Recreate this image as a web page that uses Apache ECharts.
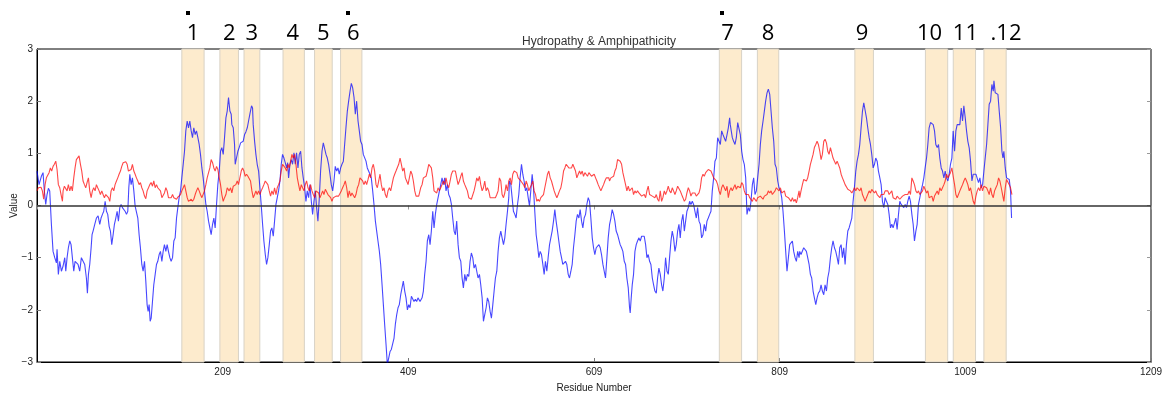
<!DOCTYPE html>
<html>
<head>
<meta charset="utf-8">
<script src="https://cdn.jsdelivr.net/npm/echarts@6/dist/echarts.min.js"></script>
<style>
  html, body { margin: 0; padding: 0; background: #fff; }
  #chart { width: 1168px; height: 399px; }
</style>
</head>
<body>
<div id="chart"></div>
<script>
// Hydropathy profile: [residue, value]
const hydropathy = [
[9,0.66],[11.2,0.40],[13.7,0.56],[15.5,0.63],[16.9,0.28],[18.4,0.02],[19.8,0.21],[21.3,0.33],[22.7,0.28],[24.5,-0.36],[26.3,-0.88],[28.1,-1.0],[29.9,-1.10],[30.6,-0.84],[32,-1.32],[33.5,-1.07],[35.3,-1.26],[37.1,-1.16],[38.9,-1.0],[40,-1.26],[41.4,-1.0],[42.8,-0.81],[44.3,-0.68],[45.7,-0.75],[47.1,-1.0],[48.6,-1.26],[50,-1.07],[51.4,-1.07],[53.2,-1.13],[55,-1.26],[56.8,-1.0],[58.6,-1.0],[60.4,-1.13],[62.2,-1.39],[63.3,-1.68],[64.4,-1.32],[65.8,-1.13],[67.3,-0.81],[68.3,-0.56],[69.4,-0.49],[71.2,-0.36],[73,-0.24],[74.8,-0.20],[76.6,-0.36],[78,-0.24],[79.5,-0.17],[80.9,-0.11],[82.4,0.08],[83.8,-0.11],[85.2,-0.17],[86.7,-0.40],[88.1,-0.49],[89.5,-0.75],[91,-0.56],[92.4,-0.36],[93.9,-0.24],[95.3,-0.11],[96.7,-0.30],[98.2,-0.04],[99.6,0.02],[101,-0.04],[102.5,-0.01],[103.9,-0.11],[105.4,-0.17],[106.8,-0.11],[107.9,0.34],[109,0.60],[110.4,0.40],[111.8,0.53],[113.3,0.28],[114.7,-0.01],[116.1,-0.01],[117.6,-0.24],[119,-0.56],[120.4,-0.81],[121.9,-1.13],[123.3,-1.26],[124.8,-1.07],[126.2,-1.45],[127.6,-1.90],[128.7,-2.03],[129.8,-1.90],[130.9,-2.22],[132,-2.16],[133.4,-1.84],[134.8,-1.52],[136.3,-1.32],[137.7,-1.13],[139.1,-1.07],[140.6,-0.94],[142,-0.88],[143.5,-1.07],[144.9,-0.88],[146.3,-0.75],[147.8,-0.88],[149.2,-0.75],[150.6,-0.88],[152.1,-1.0],[153.5,-1.07],[155,-1.0],[156.4,-0.68],[157.8,-0.62],[159.3,-0.24],[160.7,-0.04],[162.1,0.15],[163.6,0.28],[165,0.53],[166.5,0.79],[167.9,1.04],[169.3,1.43],[170.8,1.62],[172.2,1.49],[173.6,1.62],[175.1,1.43],[176.5,1.30],[177.9,1.49],[179.4,1.36],[180.8,1.43],[182.3,1.30],[183.7,1.17],[185.1,0.98],[186.6,0.72],[188,0.53],[189.4,0.28],[190.9,0.02],[192.3,-0.11],[193.8,-0.30],[195.2,-0.43],[196.6,-0.56],[198.1,-0.36],[199.5,-0.24],[200.9,-0.43],[202.4,0.02],[203.8,0.40],[205.3,0.66],[206.7,1.04],[208.1,1.11],[209.6,0.98],[211,1.30],[212.5,1.68],[213.9,1.81],[215.3,2.07],
[216.8,1.81],[218.2,1.75],[218.9,1.55],[220.4,1.49],[221.8,1.17],[222.5,0.79],[224,0.82],[225.4,1.04],[226.8,1.11],[228.3,1.20],[229.7,1.17],[231.1,1.23],[232.6,1.36],[234,1.41],[235.5,1.49],[236.9,1.62],[238.3,1.75],[240.1,1.91],[241.2,1.87],[241.9,1.55],[243.4,1.23],[244.8,0.98],[246.2,0.79],[247.7,0.66],[249.1,0.34],[250.5,0.02],[252,-0.36],[253.4,-0.68],[254.9,-0.94],[256.3,-1.13],[257.7,-1.0],[259.2,-0.75],[260.6,-0.49],[262,-0.43],[263.5,-0.59],[264.9,-0.30],[266.4,0.02],[267.8,0.15],[269.2,0.28],[270.7,0.47],[272.1,0.79],[273.5,0.98],[275,0.91],[276.4,0.82],[277.9,0.72],[279,0.82],[280,0.53],[281.5,0.79],[282.9,0.88],[284.3,0.79],[285.8,1.01],[287.2,0.79],[288.6,1.01],[290.1,0.72],[291.5,0.98],[293,1.04],[294.4,0.72],[295.8,0.53],[297.3,0.34],[298.7,0.08],[300.1,0.28],[301.6,0.15],[303,0.40],[304.5,0.08],[305.9,-0.17],[307.3,0.08],[308.8,0.28],[310.2,-0.04],[311.6,-0.30],[313.1,0.15],[314.5,0.66],[316,1.04],[317.4,1.20],[318.8,1.17],[320.3,0.98],[321.7,0.91],[323.1,0.79],[324.6,0.60],[326,0.40],[327.5,0.28],[328.9,0.47],[330.3,0.75],[331.8,0.66],[333.2,0.72],[334.6,0.60],[336.1,0.72],[337.5,0.79],[339,0.85],[340.4,1.17],[341.8,1.49],[343.3,1.81],[344.7,2.0],[346.2,2.19],[347.6,2.34],[349,2.26],[350.5,2.07],[351.9,1.75],[353.3,2.0],[354.8,1.62],[356.2,1.43],[357.6,1.23],[359.1,1.17],[360.5,0.98],[362,1.01],[363.4,0.85],[364.8,0.72],[366.3,0.69],[367.7,0.60],[369.1,0.53],[370.6,0.28],[372,0.02],[373.5,-0.30],[374.9,-0.49],[376.3,-0.68],[377.8,-0.88],[379.2,-1.13],[380.7,-1.52],[382.1,-1.90],[383.5,-2.28],[385,-2.67],[386.4,-3.05],[387.8,-3.05],[389.3,-2.80],[390.7,-2.76],[392.1,-2.73],[393.6,-2.54],[395,-2.28],[396.5,-2.09],[397.9,-1.96],[399.3,-1.90],[400.8,-1.71],[402.2,-1.58],[403.6,-1.45],[405.1,-1.64],[406.5,-1.77],[408,-2.0],[409.4,-1.90],[410.8,-1.96],[412.3,-1.74],[413.7,-1.71],[415.1,-1.84],[416.6,-1.80],[418,-1.84],[419.4,-1.77],
[421.6,-1.84],[423.8,-1.77],[425.2,-1.64],[426.6,-1.32],[428.1,-1.07],[429.5,-0.68],[431,-0.56],[432.4,-0.75],[433.8,-0.49],[435.3,-0.11],[436.7,-0.43],[438.1,-0.17],[439.6,0.02],[441,0.02],[442.5,0.28],[443.9,0.40],[445.3,0.53],[446.8,0.40],[448.2,0.53],[449.6,0.28],[451.1,0.40],[452.5,0.21],[454,0.15],[455.4,0.02],[456.8,-0.24],[458.3,-0.49],[459.7,-0.56],[461.1,-0.30],[462.6,-0.75],[464,-1.0],[465.5,-1.07],[466.9,-1.39],[468.3,-1.58],[469.8,-1.32],[471.2,-1.45],[472.6,-1.32],[474.1,-1.36],[475.5,-1.07],[476.9,-0.91],[478.4,-1.0],[479.8,-1.20],[481.3,-1.13],[482.7,-1.26],[484.1,-1.39],[485.6,-1.32],[487,-1.52],[488.5,-1.77],[489.9,-2.22],[491.3,-2.09],[492.8,-1.96],[494.2,-1.77],[495.6,-1.84],[497.1,-2.03],[498.5,-2.16],[500,-1.90],[501.4,-1.64],[502.8,-1.39],[504.3,-1.26],[505.7,-0.88],[507.1,-0.62],[508.6,-0.49],[510,-0.62],[511.5,-0.75],[512.9,-0.62],[514.3,-0.36],[515.8,-0.11],[517.2,0.15],[517.9,0.47],[519.4,0.40],[520.8,0.15],[522.2,-0.11],[523.7,-0.17],[525.1,-0.24],[526.6,0.02],[528,0.21],[529.4,0.53],[530.9,0.79],[532.3,0.60],[533.7,0.47],[535.2,0.28],[536.6,0.34],[538.1,0.15],[539.5,-0.01],[540.9,0.28],[542.4,0.60],[543.8,0.34],[545.2,-0.11],[546.7,-0.56],[548.1,-0.75],[549.6,-1.0],[551,-0.88],[552.4,-0.94],[553.9,-1.13],[555.3,-1.32],[556.7,-1.07],[558.2,-1.26],[559.6,-1.0],[561.1,-0.75],[562.5,-0.62],[563.9,-0.49],[565.4,-0.30],[566.8,-0.08],[568.2,-0.30],[569.7,-0.49],[571.1,-0.68],[572.6,-0.88],[574,-1.0],[575.4,-1.13],[576.9,-1.16],[578.3,-1.07],[579.7,-1.13],[581.2,-1.32],[582.6,-1.39],[584.1,-1.26],[585.5,-1.13],[586.9,-0.81],[588.4,-0.56],[589.8,-0.30],[591.2,-0.17],[592.7,-0.24],[594.1,-0.08],[595.6,-0.30],[597,-0.43],[598.4,-0.24],[599.9,-0.17],[601.3,0.02],[602.8,0.15],[604.2,0.08],[605.6,-0.24],[607.1,-0.62],[608.5,-0.81],[609.9,-0.94],[611.4,-0.81],[612.8,-0.84],[614.3,-0.75],[615.7,-0.81],[617.1,-0.94],[618.6,-1.13],[620,-1.26],[621.4,-1.39],[622.9,-1.0],[624.3,-0.62],[625.8,-0.36],
[627.2,-0.24],[628.6,-0.08],[630.1,-0.17],[631.5,-0.30],[632.9,-0.49],[634.4,-0.56],[635.8,-0.59],[637.2,-0.75],[638.7,-0.81],[640.1,-0.88],[641.6,-1.07],[643,-1.13],[644.4,-1.39],[645.9,-1.58],[647.3,-1.96],[648,-2.06],[649.1,-1.77],[650.2,-1.52],[651.6,-1.32],[653.1,-0.88],[654.5,-0.75],[655.9,-0.68],[657.4,-0.62],[658.8,-0.68],[660.3,-0.59],[661.7,-0.56],[663.1,-0.59],[664.6,-0.75],[666,-1.0],[667.4,-0.94],[668.9,-1.07],[670.3,-1.13],[671.8,-1.39],[673.2,-1.52],[674.6,-1.64],[676.1,-1.68],[677.5,-1.39],[678.9,-1.20],[680.4,-1.32],[681.8,-1.52],[683.2,-1.64],[684.7,-1.39],[686.1,-1.0],[687.6,-1.26],[689,-1.32],[690.4,-1.0],[691.9,-0.68],[693.3,-0.49],[694.7,-0.62],[696.2,-0.88],[697.6,-0.75],[699.1,-0.49],[700.5,-0.36],[701.9,-0.62],[703.4,-0.30],[704.8,-0.17],[706.3,-0.49],[707.7,-0.30],[709.1,-0.11],[710.6,-0.04],[712,0.08],[713.4,0.02],[714.9,0.08],[716.3,0.02],[717.7,-0.11],[719.2,-0.24],[720.6,-0.04],[722.1,-0.30],[723.5,-0.36],[724.9,-0.62],[726.4,-0.56],[727.8,-0.36],[729.3,-0.49],[730.7,-0.30],[732.1,-0.24],[733.6,-0.17],[735,-0.11],[736.4,0.28],[737.9,0.53],[739.3,0.85],[740.8,0.91],[742.2,1.30],[743.6,1.30],[745.1,1.17],[746.5,1.43],[747.9,1.36],[749.4,1.39],[750.8,1.23],[752.3,1.36],[753.7,1.49],[755.1,1.68],[755.8,1.55],[756.6,1.52],[758,1.30],[759.4,1.23],[760.9,1.17],[762.3,1.30],[763.8,1.59],[765.2,1.62],[766.6,1.36],[768.1,1.04],[769.5,0.88],[770.9,0.79],[772.4,0.53],[773.8,-0.17],[775.3,-0.04],[776.7,-0.11],[778.1,0.08],[779.6,0.40],[781,0.53],[782.4,0.21],[783.9,0.28],[785.3,0.53],[786.8,0.79],[788.2,1.17],[789.6,1.43],[791.1,1.62],[792.5,1.81],[793.9,2.0],[795.4,2.16],[796.8,2.23],[798.3,2.13],[799.7,1.81],[801.1,1.49],[802.6,1.23],[804,0.79],[805.4,0.72],[806.9,0.47],[808.3,0.34],[809.8,0.28],[811.2,0.15],[812.6,-0.11],[814.1,-0.49],[815.5,-0.88],[816.9,-1.26],[818.4,-1.0],[819.8,-0.75],[821.3,-0.72],[822.7,-0.68],[824.1,-0.88],[825.6,-1.0],[827,-1.07],[828.4,-0.88],[829.9,-1.0],
[830.6,-0.88],[832,-0.94],[833.5,-0.91],[834.9,-0.81],[836.4,-0.78],[837.8,-0.88],[839.2,-1.0],[840.7,-1.13],[842.1,-1.32],[843.5,-1.39],[845,-1.64],[846.4,-1.77],[847.9,-1.90],[849.3,-1.77],[850.7,-1.68],[852.2,-1.64],[853.6,-1.52],[855,-1.64],[856.5,-1.71],[857.9,-1.52],[859.4,-1.64],[860.8,-1.39],[862.2,-1.26],[863.7,-1.0],[865.1,-0.81],[866.5,-0.68],[868,-0.81],[869.4,-0.88],[870.9,-1.0],[872.3,-1.13],[873.7,-0.81],[875.2,-0.75],[876.6,-1.0],[878,-0.81],[879.5,-1.13],[880.9,-0.75],[882.4,-0.49],[883.8,-0.43],[885.2,-0.40],[886.7,-0.24],[888.1,0.08],[889.5,0.34],[891,0.66],[892.4,0.85],[893.9,0.98],[895.3,1.17],[896.7,1.49],[898.2,1.81],[899.6,1.97],[901,1.94],[902.5,1.68],[903.9,1.49],[905.4,1.30],[906.8,1.17],[908.2,0.98],[909.7,0.72],[911.1,0.79],[912.5,0.91],[914,0.85],[915.4,0.66],[916.9,0.53],[918.3,0.40],[919.7,0.08],[921.2,-0.04],[922.6,0.15],[924,0.08],[925.5,0.02],[926.9,-0.17],[928.4,-0.43],[929.8,-0.36],[931.2,-0.43],[932.7,-0.40],[934.1,-0.24],[935.5,-0.46],[937,-0.17],[938.4,0.08],[939.9,0.02],[941.3,0.02],[942.7,-0.04],[944.2,0.02],[945.6,-0.04],[947,0.08],[948.5,0.18],[949.9,0.08],[951.4,-0.17],[952.8,-0.36],[954.2,-0.68],[955.7,-0.49],[957.1,-0.36],[958.5,0.02],[960,0.15],[961.4,0.28],[962.9,0.40],[964.3,0.53],[965.7,0.72],[967.2,0.91],[968.6,1.17],[970,1.49],[971.5,1.59],[972.9,1.59],[974.4,1.55],[975.8,1.43],[977.2,1.17],[978.7,1.11],[980.1,1.17],[981.5,0.91],[983,0.72],[984.4,0.66],[985.9,0.53],[987.3,0.66],[988.7,0.53],[990.2,0.47],[991.6,0.60],[993,0.79],[994.5,0.91],[995.9,1.43],[997.4,1.04],[998.8,1.43],[1000.2,1.55],[1001.7,1.52],[1003.1,1.55],[1004.6,1.87],[1006,1.62],[1007.4,1.91],[1008.9,1.68],[1010.3,1.43],[1011.7,1.23],[1013.2,1.10],[1014.6,0.85],[1016.1,0.47],[1017.5,0.60],[1018.9,0.63],[1020.4,0.60],[1021.8,0.63],[1023.2,0.44],[1024.7,0.53],[1026.1,0.34],[1027.6,0.40],[1029,0.66],[1030.4,0.91],[1031.9,1.17],[1033.3,1.55],[1034.7,1.94],[1036.2,2.0],[1037.6,2.32],[1039.1,2.19],[1039.8,2.39],[1041.2,2.16],[1042.6,2.16],[1044.1,2.13],[1045.5,1.81],[1047,1.49],[1048.4,1.04],[1049.5,0.91],[1050.5,1.04],[1052,0.72],[1053.4,0.53],[1054.9,0.50],[1056.3,0.50],[1057.7,0.28],[1058.8,-0.24]
];

// Amphipathicity profile: [residue, value]
const amphipathicity = [
[9,0.28],[10.5,0.34],[11.9,0.31],[13.3,0.35],[14.8,0.28],[16.2,0.12],[17.7,0.40],[19.1,0.53],[20.5,0.56],[22,0.63],[23.4,0.72],[24.8,0.66],[26.3,0.75],[27.7,0.79],[29.2,0.85],[30.6,0.69],[32,0.40],[33.5,0.34],[34.9,0.21],[36.4,0.08],[37.1,0.28],[38.5,0.37],[40,0.34],[41.4,0.28],[42.8,0.40],[44.3,0.28],[45.7,0.37],[47.1,0.28],[48.6,0.53],[50,0.72],[51.4,0.88],[52.9,0.91],[54.3,0.95],[55.8,0.79],[57.2,0.66],[58.6,0.47],[60.1,0.40],[61.5,0.34],[62.9,0.44],[64.4,0.53],[65.8,0.28],[67.3,0.15],[68.7,0.28],[70.1,0.34],[71.6,0.28],[73,0.40],[74.4,0.34],[75.9,0.28],[77.3,0.21],[78.8,0.28],[80.2,0.21],[81.6,0.15],[83.1,0.21],[84.5,0.18],[86,0.15],[87.4,0.08],[88.8,0.28],[90.3,0.34],[91.7,0.28],[93.1,0.40],[94.6,0.47],[96,0.53],[97.4,0.60],[98.9,0.66],[100.3,0.75],[101.8,0.82],[103.2,0.85],[104.6,0.84],[106.1,0.79],[107.5,0.66],[108.9,0.63],[110.4,0.69],[111.8,0.79],[113.3,0.66],[114.7,0.60],[116.1,0.53],[117.6,0.47],[119,0.40],[120.4,0.44],[121.9,0.34],[123.3,0.28],[124.8,0.18],[126.2,0.13],[127.6,0.28],[129.1,0.34],[130.5,0.40],[131.9,0.44],[133.4,0.37],[134.8,0.47],[136.3,0.34],[137.7,0.40],[139.1,0.34],[140.6,0.37],[142,0.28],[143.5,0.15],[144.9,0.12],[146.3,0.24],[147.8,0.34],[149.2,0.28],[150.6,0.15],[152.1,0.18],[153.5,0.15],[155,0.21],[156.4,0.15],[157.8,0.18],[159.3,0.12],[160.7,0.16],[162.1,0.15],[163.6,0.21],[165,0.28],[166.5,0.34],[167.9,0.40],[169.3,0.28],[170.8,0.15],[172.2,0.08],[173.6,0.05],[175.1,0.12],[176.5,0.08],[177.9,0.12],[179.4,0.21],[180.8,0.28],[182.3,0.34],[183.7,0.28],[185.1,0.21],[186.6,0.15],[188,0.12],[189.4,0.28],[190.9,0.40],[192.3,0.53],[193.8,0.63],[195.2,0.72],[196.6,0.88],[198.1,0.82],[199.5,0.72],[200.9,0.66],[202.4,0.75],[203.8,0.69],[205.3,0.53],[206.7,0.40],[208.1,0.21],[209.6,0.08],[211,0.15],[212.5,0.21],[213.9,0.34],[215.3,0.37],
[216,0.28],[217.5,0.34],[218.9,0.24],[220.4,0.37],[221.8,0.34],[223.2,0.40],[224.7,0.47],[226.1,0.40],[227.5,0.53],[229,0.66],[230.4,0.72],[231.9,0.66],[233.3,0.56],[234.7,0.60],[236.2,0.56],[237.6,0.53],[239,0.47],[240.5,0.28],[241.9,0.15],[243.4,0.21],[244.8,0.28],[246.2,0.21],[247.7,0.28],[249.1,0.21],[250.5,0.28],[252,0.34],[253.4,0.40],[254.9,0.47],[256.3,0.47],[257.7,0.40],[259.2,0.28],[260.6,0.18],[262,0.28],[263.5,0.21],[264.9,0.34],[266.4,0.21],[267.8,0.34],[269.2,0.40],[270.7,0.47],[272.1,0.66],[273.5,0.79],[275,0.82],[276.4,0.72],[277.9,0.66],[279.3,0.79],[280.7,0.72],[282.2,0.85],[283.6,0.98],[285,0.91],[286.5,0.98],[287.9,0.79],[289.4,0.53],[290.8,0.40],[292.2,0.28],[293.7,0.40],[295.1,0.34],[296.6,0.28],[298,0.40],[299.4,0.47],[300.9,0.34],[302.3,0.28],[303.7,0.40],[305.2,0.28],[306.6,0.21],[308.1,0.15],[309.5,0.28],[310.9,0.31],[312.4,0.24],[313.8,0.15],[315.2,0.21],[316.7,0.28],[318.1,0.21],[319.6,0.31],[321,0.28],[322.4,0.21],[323.9,0.18],[325.3,0.15],[326.7,0.08],[328.2,0.15],[329.6,0.12],[331.1,0.18],[332.5,0.15],[333.9,0.18],[335.4,0.21],[336.8,0.28],[338.2,0.34],[339.7,0.40],[341.1,0.47],[342.6,0.34],[344,0.15],[345.4,0.28],[346.9,0.18],[348.3,0.24],[349.7,0.21],[351.2,0.15],[352.6,0.21],[354.1,0.34],[355.5,0.40],[356.9,0.53],[358.4,0.50],[359.8,0.47],[361.2,0.40],[362.7,0.47],[364.1,0.40],[365.6,0.50],[367,0.60],[368.4,0.53],[369.9,0.72],[371.3,0.79],[372.7,0.66],[374.2,0.40],[375.6,0.34],[377.1,0.47],[378.5,0.60],[379.9,0.40],[381.4,0.28],[382.8,0.34],[384.2,0.21],[385.7,0.15],[387.1,0.28],[388.6,0.34],[390,0.28],[391.4,0.40],[392.9,0.53],[394.3,0.60],[395.7,0.66],[397.2,0.66],[398.6,0.79],[400.1,0.91],[401.5,0.79],[402.9,0.66],[404.4,0.72],[405.8,0.53],[407.2,0.47],[408.7,0.40],[410.1,0.53],[411.6,0.66],[413,0.60],[414.4,0.47],[415.9,0.28],[417.3,0.18],[418.7,0.15],[420.2,0.18],
[420.9,0.18],[422.3,0.34],[423.8,0.40],[425.2,0.53],[426.6,0.50],[428.1,0.56],[429.5,0.66],[431,0.79],[432.4,0.82],[433.8,0.72],[435.3,0.53],[436.7,0.28],[438.1,0.28],[439.6,0.24],[441,0.34],[442.5,0.28],[443.9,0.34],[445.3,0.40],[446.8,0.47],[448.2,0.40],[449.6,0.53],[451.1,0.40],[452.5,0.34],[454,0.47],[455.4,0.60],[456.8,0.66],[458.3,0.63],[459.7,0.66],[461.1,0.53],[462.6,0.40],[464,0.47],[465.5,0.56],[466.9,0.63],[468.3,0.47],[469.8,0.40],[471.2,0.34],[472.6,0.28],[474.1,0.15],[475.5,0.18],[476.9,0.12],[478.4,0.15],[479.8,0.28],[481.3,0.40],[482.7,0.53],[484.1,0.47],[485.6,0.56],[487,0.40],[488.5,0.28],[489.9,0.34],[491.3,0.47],[492.8,0.28],[494.2,0.34],[495.6,0.28],[497.1,0.15],[498.5,0.12],[500,0.15],[501.4,0.18],[502.8,0.15],[504.3,0.21],[505.7,0.28],[507.1,0.53],[508.6,0.47],[510,0.21],[511.5,0.15],[512.9,0.24],[514.3,0.40],[515.8,0.28],[517.2,0.47],[518.7,0.53],[520.1,0.40],[521.5,0.60],[523,0.66],[524.4,0.69],[525.8,0.63],[527.3,0.53],[528.7,0.56],[530.2,0.47],[531.6,0.50],[533,0.40],[534.5,0.34],[535.9,0.47],[537.3,0.40],[538.8,0.28],[540.2,0.34],[541.7,0.40],[543.1,0.47],[544.5,0.28],[546,0.21],[547.4,0.08],[548.8,0.12],[550.3,0.08],[551.7,0.15],[553.2,0.15],[554.6,0.21],[556,0.34],[557.5,0.47],[558.9,0.60],[560.3,0.66],[561.8,0.53],[563.2,0.47],[564.6,0.44],[566.1,0.28],[567.5,0.21],[569,0.15],[570.4,0.21],[571.8,0.28],[573.3,0.34],[574.7,0.47],[576.2,0.66],[577.6,0.72],[579,0.79],[580.5,0.82],[581.9,0.72],[583.3,0.75],[584.8,0.72],[586.2,0.79],[587.7,0.82],[589.1,0.66],[590.5,0.53],[592,0.60],[593.4,0.66],[594.8,0.60],[596.3,0.66],[597.7,0.56],[599.2,0.63],[600.6,0.60],[602,0.56],[603.5,0.63],[604.9,0.66],[606.3,0.56],[607.8,0.53],[609.2,0.60],[610.7,0.53],[612.1,0.47],[613.5,0.40],[615,0.37],[616.4,0.28],[617.8,0.34],[619.3,0.40],[620.7,0.47],[622.2,0.53],[623.6,0.56],[625,0.53],
[625.7,0.47],[627.2,0.53],[628.6,0.50],[630.1,0.56],[631.5,0.66],[632.9,0.72],[634.4,0.88],[635.8,0.88],[637.2,0.85],[638.7,0.79],[640.1,0.63],[641.6,0.66],[643,0.40],[644.4,0.28],[645.9,0.37],[647.3,0.28],[648.7,0.28],[650.2,0.34],[651.6,0.21],[653.1,0.28],[654.5,0.24],[655.9,0.28],[657.4,0.24],[658.8,0.21],[660.3,0.18],[661.7,0.15],[663.1,0.21],[664.6,0.15],[666,0.28],[667.4,0.37],[668.9,0.21],[670.3,0.24],[671.8,0.18],[673.2,0.21],[674.6,0.15],[676.1,0.21],[677.5,0.12],[678.9,0.08],[680.4,0.28],[681.8,0.08],[683.2,0.15],[684.7,0.28],[686.1,0.21],[687.6,0.28],[689,0.37],[690.4,0.28],[691.9,0.24],[693.3,0.34],[694.7,0.28],[696.2,0.21],[697.6,0.28],[699.1,0.37],[700.5,0.34],[701.9,0.28],[703.4,0.21],[704.8,0.15],[706.3,0.08],[707.7,0.12],[709.1,0.24],[710.6,0.34],[712,0.28],[713.4,0.18],[714.9,0.24],[716.3,0.21],[717.7,0.24],[719.2,0.18],[720.6,0.21],[722.1,0.24],[723.5,0.34],[724.9,0.53],[726.4,0.60],[727.8,0.56],[729.3,0.63],[730.7,0.60],[732.1,0.69],[733.6,0.67],[735,0.66],[736.4,0.60],[737.9,0.53],[739.3,0.50],[740.8,0.47],[742.2,0.40],[743.6,0.28],[745.1,0.21],[746.5,0.34],[747.9,0.40],[749.4,0.34],[750.8,0.28],[752.3,0.37],[753.7,0.15],[755.1,0.28],[756.6,0.34],[758,0.28],[759.4,0.34],[760.9,0.40],[762.3,0.31],[763.8,0.37],[765.2,0.40],[766.6,0.34],[768.1,0.44],[769.5,0.40],[770.9,0.28],[772.4,0.21],[773.8,0.18],[775.3,0.21],[776.7,0.15],[778.1,0.12],[779.6,0.08],[781,0.15],[782.4,0.12],[783.9,0.08],[785.3,0.15],[786.8,0.12],[788.2,0.18],[789.6,0.15],[791.1,0.12],[792.5,0.18],[793.9,0.15],[795.4,0.21],[796.8,0.28],[798.3,0.24],[799.7,0.28],[801.1,0.21],[802.6,0.24],[804,0.28],[805.4,0.34],[806.9,0.31],[808.3,0.28],[809.8,0.34],[811.2,0.24],[812.6,0.21],[814.1,0.28],[815.5,0.18],[816.9,0.21],[818.4,0.15],[819.8,0.18],[821.3,0.08],[822.7,0.15],[824.1,0.08],[825.6,0.12],[827,0.05],[828.4,0.15],[829.9,0.28],
[830.6,0.15],[832,0.28],[833.5,0.40],[834.9,0.50],[836.4,0.50],[837.8,0.47],[839.2,0.53],[840.7,0.66],[842.1,0.79],[843.5,0.88],[845,0.98],[846.4,1.11],[847.9,1.17],[849.3,1.23],[850.7,1.17],[852.2,1.04],[853.6,0.88],[855,0.98],[856.5,1.23],[857.9,1.27],[859.4,1.20],[860.8,1.04],[862.2,0.98],[863.7,1.11],[865.1,1.01],[866.5,0.91],[868,0.85],[869.4,0.79],[870.9,0.85],[872.3,0.82],[873.7,0.72],[875.2,0.60],[876.6,0.53],[878,0.47],[879.5,0.40],[880.9,0.40],[882.4,0.31],[883.8,0.28],[885.2,0.28],[886.7,0.24],[888.1,0.28],[889.5,0.34],[891,0.28],[892.4,0.34],[893.9,0.31],[895.3,0.28],[896.7,0.34],[898.2,0.21],[899.6,0.15],[901,0.08],[902.5,0.15],[903.9,0.18],[905.4,0.28],[906.8,0.24],[908.2,0.31],[909.7,0.28],[911.1,0.24],[912.5,0.28],[914,0.21],[915.4,0.18],[916.9,0.15],[918.3,0.21],[919.7,0.18],[921.2,0.21],[922.6,0.28],[924,0.31],[925.5,0.28],[926.9,0.21],[928.4,0.24],[929.8,0.28],[931.2,0.15],[932.7,0.18],[934.1,0.12],[935.5,0.18],[937,0.15],[938.4,0.12],[939.9,0.15],[941.3,0.18],[942.7,0.15],[944.2,0.21],[945.6,0.18],[947,0.21],[948.5,0.28],[949.9,0.21],[951.4,0.53],[952.8,0.47],[954.2,0.40],[955.7,0.28],[957.1,0.24],[958.5,0.28],[960,0.21],[961.4,0.18],[962.9,0.28],[964.3,0.37],[965.7,0.34],[967.2,0.24],[968.6,0.28],[970,0.15],[972.9,0.18],[974.4,0.08],[975.8,0.18],[977.2,0.15],[978.7,0.28],[980.1,0.21],[981.5,0.34],[983,0.28],[984.4,0.34],[985.9,0.40],[987.3,0.47],[988.7,0.60],[990.2,0.53],[991.6,0.56],[993,0.63],[994.5,0.72],[995.9,0.56],[997.4,0.40],[998.8,0.21],[1000.2,0.15],[1001.7,0.18],[1003.1,0.28],[1004.5,0.34],[1006,0.40],[1007.4,0.47],[1008.9,0.53],[1010.3,0.47],[1011.7,0.40],[1013.2,0.28],[1014.6,0.34],[1016.1,0.21],[1017.5,0.08],[1018.9,0.02],[1020.4,0.18],[1021.8,0.28],[1023.2,0.34],[1024.7,0.28],[1026.1,0.40],[1027.5,0.28],[1029,0.37],[1030.4,0.40],[1031.9,0.34],[1033.3,0.28],[1034.7,0.21],[1036.2,0.34],[1037.6,0.21],[1039.1,0.15],[1040.5,0.28],[1041.9,0.34],[1043.4,0.40],[1044.8,0.53],[1046.2,0.47],[1047.7,0.34],[1049.1,0.21],[1050.5,0.08],[1052,0.34],[1053.4,0.50],[1054.9,0.47],[1056.3,0.40],[1057.7,0.34],[1059.2,0.21]
];

// Predicted transmembrane segments: [start, end] residues
const segmentNames = ['1','2','3','4','5','6','7','8','9','10','11','.12'];
const segmentStarts = [165, 206, 232, 274, 308, 336, 744, 785, 890, 966, 996, 1029];
const segmentEnds   = [189, 226, 249, 297, 327, 359, 768, 808, 910, 990, 1020, 1053];
// horizontal nudge of each number label, and whether a small marker sits above it
const labelShift = [0, 0, 0, -1, 0, 2, -3, 0, -2, -7, 1, 11];
const labelMarker = [true, false, false, false, false, true, true, false, false, false, false, false];

const xTicks = { min: 9, max: 1209, step: 200 };
const yTicks = { min: -3, max: 3, step: 1 };

const chart = echarts.init(document.getElementById('chart'), null, { renderer: 'canvas' });

const tickFont = { fontFamily: '"Liberation Sans", Arial, sans-serif', fontSize: 10, color: '#222' };
const numFont = '"Open Sans", Lato, "Liberation Sans", sans-serif';

const areaData = segmentNames.map((name, i) => [
  {
    xAxis: segmentStarts[i],
    name: name,
    label: { offset: [labelShift[i], 0] }
  },
  { xAxis: segmentEnds[i] }
]);

chart.setOption({
  animation: false,
  backgroundColor: '#fff',
  title: {
    text: 'Hydropathy & Amphipathicity',
    left: 594,
    top: 31,
    textAlign: 'center',
    textStyle: { fontFamily: '"Liberation Sans", Arial, sans-serif', fontSize: 12, fontWeight: 'normal', color: '#333' }
  },
  grid: {
    left: 37, right: 17, top: 49, bottom: 37,
    containLabel: false,
    outerBoundsMode: 'none',
    show: true, borderColor: '#000', borderWidth: 1, backgroundColor: 'transparent'
  },
  xAxis: [
    {
      type: 'value', min: xTicks.min, max: xTicks.max, interval: xTicks.step,
      name: 'Residue Number', nameLocation: 'middle', nameGap: 21, nameMoveOverlap: false,
      nameTextStyle: Object.assign({}, tickFont, { fontSize: 10 }),
      axisLine: { show: true, onZero: false, lineStyle: { color: '#000', width: 1 } },
      axisTick: { show: true, inside: true, length: 4, lineStyle: { color: '#777' } },
      axisLabel: Object.assign({ margin: 5, showMinLabel: false, formatter: v => (v === xTicks.min ? '' : String(v)) }, tickFont),
      splitLine: { show: false }
    },
    {
      type: 'value', position: 'top', min: xTicks.min, max: xTicks.max, interval: xTicks.step,
      axisLine: { show: false },
      axisTick: { show: true, inside: true, length: 4, lineStyle: { color: '#999' } },
      axisLabel: { show: false },
      splitLine: { show: false }
    }
  ],
  yAxis: [
    {
      type: 'value', min: yTicks.min, max: yTicks.max, interval: yTicks.step,
      name: 'Value', nameLocation: 'middle', nameGap: 18, nameRotate: 90, nameMoveOverlap: false,
      nameTextStyle: Object.assign({}, tickFont, { fontSize: 10 }),
      axisLine: { show: true, lineStyle: { color: '#000', width: 1 } },
      axisTick: { show: true, inside: true, length: 4, lineStyle: { color: '#777' } },
      axisLabel: Object.assign({ margin: 4, formatter: v => (v < 0 ? '\u2212' + Math.abs(v) : String(v)) }, tickFont),
      splitLine: { show: false }
    },
    {
      type: 'value', position: 'right', min: yTicks.min, max: yTicks.max, interval: yTicks.step,
      axisLine: { show: false },
      axisTick: { show: true, inside: true, length: 4, lineStyle: { color: '#999' } },
      axisLabel: { show: false },
      splitLine: { show: false }
    }
  ],
  series: [
    {
      name: 'segments',
      type: 'line',
      data: [],
      z: 1,
      silent: true,
      markArea: {
        silent: true,
        itemStyle: { color: '#FDEBCD', borderColor: '#D8D2C6', borderWidth: 1 },
        label: {
          show: true,
          position: 'top',
          distance: 4,
          formatter: p => p.name,
          fontFamily: numFont,
          fontSize: 22,
          color: '#000'
        },
        data: areaData
      },
      markLine: {
        silent: true,
        symbol: 'none',
        label: { show: false },
        lineStyle: { color: '#333', width: 1.5, type: 'solid' },
        data: [{ yAxis: 0 }]
      }
    },
    {
      name: 'Hydropathy',
      type: 'line',
      data: hydropathy,
      z: 3,
      symbol: 'none',
      clip: true,
      lineStyle: { color: 'rgba(0,0,255,0.72)', width: 1.1 }
    },
    {
      name: 'Amphipathicity',
      type: 'line',
      data: amphipathicity,
      z: 3,
      symbol: 'none',
      clip: true,
      lineStyle: { color: 'rgba(255,0,0,0.72)', width: 1.1 }
    }
  ]
});

// small square markers above selected segment numbers, placed from the axis scale
const markers = [];
segmentNames.forEach((name, i) => {
  if (!labelMarker[i]) return;
  const cx = chart.convertToPixel({ xAxisIndex: 0 }, (segmentStarts[i] + segmentEnds[i]) / 2) + labelShift[i];
  markers.push({
    type: 'rect',
    shape: { x: Math.round(cx - 7), y: 11, width: 4, height: 4 },
    style: { fill: '#000' },
    silent: true
  });
});
chart.setOption({ graphic: markers });
</script>
</body>
</html>
